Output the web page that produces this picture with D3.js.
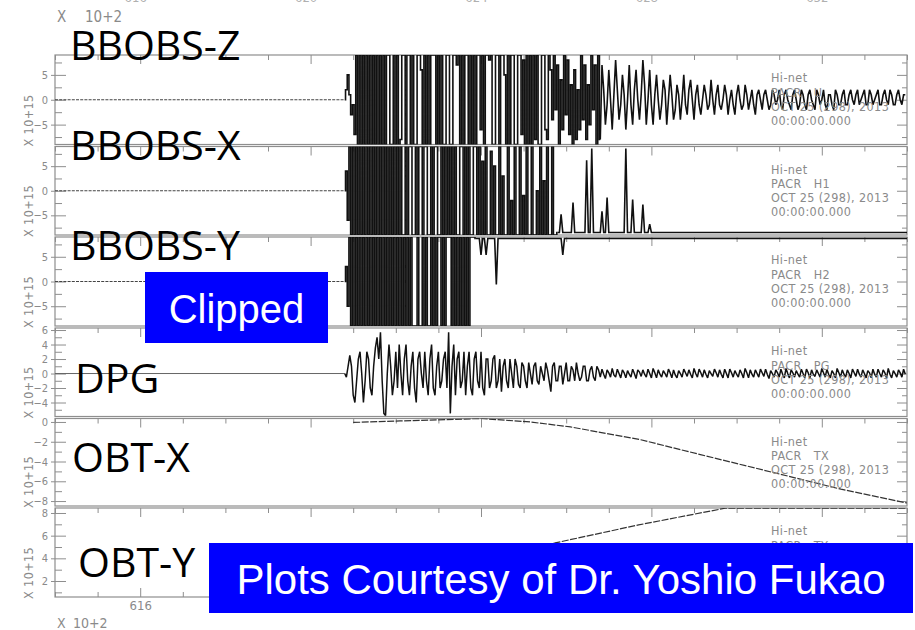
<!DOCTYPE html>
<html>
<head>
<meta charset="utf-8">
<script src="https://cdn.jsdelivr.net/npm/d3@7"></script>
<style>
  html, body { margin: 0; padding: 0; background: #fff; }
  svg { display: block; }
  .plotfont { font-family: 'Liberation Sans Narrow', 'DejaVu Sans Condensed', 'Liberation Sans', sans-serif; }
</style>
</head>
<body>
<svg id="chart" width="915" height="630"></svg>
<script>
// ---------------- data ----------------
// Station PACR, Hi-net, 2013-10-25. Time axis in units of 10^2 s.
const panelNames   = ["BBOBS-Z", "BBOBS-X", "BBOBS-Y", "DPG", "OBT-X", "OBT-Y"];
const channelCodes = ["U", "H1", "H2", "PG", "TX", "TY"];
const stationLines = ["Hi-net", "PACR", "OCT 25 (298), 2013", "00:00:00.000"];

const timeDomain     = [614, 634];
const timeMajorTicks = [616, 620, 624, 628, 632];
const timeMinorTicks = [614, 615, 617, 618, 619, 621, 622, 623, 625, 626, 627, 629, 630, 631, 633, 634];

// amplitude ranges (x 10^15) and axis ticks of each panel
const ampDomains = [[-9, 9], [-9, 9], [-9, 9], [-5.93, 6.28], [-8.5, 0.35], [0.59, 8.44]];
const ampMajorTicks = [[-5, 0, 5], [-5, 0, 5], [-5, 0, 5], [-4, -2, 0, 2, 4, 6], [-8, -6, -4, -2, 0], [2, 4, 6, 8]];
const ampMinorTicks = [[-7.5, -2.5, 2.5, 7.5], [-7.5, -2.5, 2.5, 7.5], [-7.5, -2.5, 2.5, 7.5],
                       [-5, -3, -1, 1, 3, 5], [-7, -5, -3, -1], [1, 3, 5, 7]];

// broadband sensor saturation level (x 10^15)
const clipLevel = 9;

// waveform samples (extrema) from the first arrival onward
const traceStart = 620.8;
const traceStep  = 0.04;

const zValues = [
  0, 2, 5, 1, -3, -1, -7,
  9, -9, 9, -9, 9, -9, 9, -9, 9, -9, 9, -9, 9, -9, 9, -9, 9, -9,
  9, 9, -9, -9, 9, -9, 9, -9,
  -8, 9,
  9, -9, 9, 9, -9, 9, -9, -9, 9,
  9, 6,
  -9, 9, -9, 9, -9, 9,
  9, 9,
  -9, 9, -9, 9, -9,
  -9, 9, 9, -9, -9, 9,
  9, 7, 9,
  -9, 9, -9, 9,
  9,
  -9, 9, -9, 9, -9, 9,
  9, -6,
  9, -9, 9,
  9, 8, 9,
  -9, -9, 9, 9, -9, 9,
  9, 5,
  -9, 9, -9, 9,
  9, -9, -9, 9, 9, -7, 8, -9,
  9, -9, 9, -9, 9, -8, 9, -9,
  -9, 9, 9, -6, -8, 9, 6, -4,
  9, -2, 7, -9, 4, -6, 9, -3, 8, -7, 3, -9,
  6, -8, 2, -6, 9, -4, 7, -8, 3, -5, 9, -2,
  7, -9, 9, -8,
  7, 2, -5, -1, 6, 0, -6, 1, 8, 2, -4, -1, 5, 1, -6, 0, 7, -1, -5, 2, 6, 0, -4, 1, 8, 3, -5, 0, 6,
  -1, -5, 1, 5, 0, -4, -1, 4, 2, -5, 0, 5, 1, -4, -2, 3, 1, -4, 0, 5, -1, -3, 2, 4, 0, -4, 1, 3, -1,
  -3, 0, 3, 1, -2, -1, 4, 0, -3, 1, 3, -1, -2, 0, 3, 1, -3, 0, 2, -1, -3, 1, 3, 0, -2, -1, 3, 1, -2, 0, 2, -1, -3, 1, 2, 0,
  -2, 1, 2, 0, -2, -1, 2, 1, -1, 0, 2, -1, -2, 1, 2, 0, -1, -2, 1, 2, 0, -2, -1, 2, 1, -1, -2, 1, 2, 0, -1, -2, 2, 1, -1, 0, 2, -1, -2, 1, 1, -1, -2, 2, 1, -1, -1,
  1, 2, -1, -1, 1, 2, 0, -1, 1, 2, -1, 0, 1, 2, -1, -1, 2, 1, -1, 0, 1, 2, -1, -1, 1, 2, 0, -1, 2, 1, -1, -1, 1, 2, 0, -1, 1, 1
];

const xValues = [
  0, 4, -6,
  9, -9, 9, -9, 9, -9, 9, -9, 9, -9, 9, -9, 9, -9, 9, -9, 9, -9, 9, -9, 9, -9, 9, -9, 9, -9, 9, -9, 9, -9,
  9, -9, -9, 9, -9, 9, 9, -9, -9, 9, -9, 9, 9, -9, 9, 9, -9, -9, 9, -9, 9, 9, -9, -9, 9,
  -9, 9, -9, 9, -9, 9, -9, 9, -9, -9, 9, 9, -9, 9, -9, 9, -9, -9, 9, 9,
  -9, 9, -9, 6, -9, 9, -9, -9, 8, -9, 5, -9, -9, 9, -9, 3, -9, -9, 9, -9, -2, -9, 9,
  -9, -9, 9, -9, -1, -9, 9, -9, -9, 9, -9, -9, 0, -9, 9, -9, 2, -9, 9, -9, -9, 9, -9, -9,
  -8.5, -8.5, -4.8, -8.5, -8.5, -8.5, -8.5, -8.5, -8.5, -2.4, -8.5, -8.5, -8.5, -8.5, -8.5, -8.5, -8.5,
  6.2, -8.5, -8.5, 8.6, -8.5, -8.5, -8.5, -8.5, -8.5, -4.2, -8.5, -8.5, -1.4,
  -8.5, -8.5, -8.5, -8.5, -8.5, -8.5, -8.5, -8.5, -8.5, -8.5, 8.6, -8.5, -8.5, -8.5, -1.8,
  -8.5, -8.5, -8.5, -8.5, -8.5, -2.8, -8.5, -8.5, -8.5, -6.8, -8.5, -8.5, -8.5
];

const yValues = [
  0, 3, -5,
  9, -9, 9, -9, 9, -9, 9, -9, 9, -9, 9, -9, 9, -9, 9, -9, 9, -9, 9, -9, 9, -9, 9, -9, 9, -9, 9, -9, 9, -9,
  9, -9, 9, -9, 9, -9, 9, -9,
  -9, -9, 9, -9, -9, 9, -9, 9, -9, -9, 9, -9, 9, -9, 9, 9, -9, 9, -9, 9, 9, 9, -9, 9, -9, 9, -9, 9, -9, 9, -9, 9, -9, 9, 9, 9,
  8.7, 8.7, 8.7, 5.4, 8.7, 8.7, 5.4, 8.7, 8.7, 8.7, 8.7, 8.7, -0.6,
  8.7, 8.7, 8.7, 8.7, 8.7, 8.7, 8.7, 8.7, 8.7, 8.7, 8.7, 8.7, 8.7, 8.7, 8.7, 8.7, 8.7, 8.7, 8.7,
  8.7, 8.7, 8.7, 8.7, 8.7, 8.7, 8.7, 8.7, 8.7, 8.7, 8.7, 8.7, 8.7, 8.7, 8.7, 8.7, 8.7, 8.7, 8.7,
  5.4, 8.7, 8.7, 8.7, 8.7
];

const dpgValues = [
  0, -0.5, 1, 2.5, 1, -3, -4, -1, 2, 3, 0, -4, -1, 3, 2, -2, -3, 1, 3.5, 5, 2, 5.7, -1, -5.5, -5.8, 0, 4, 1, -3, -1,
  3, -2, 4, 0, -3, 2, 4, -1, -3, 1, 3, -2, -4, 2, 3, 0, -2, 3, -1, -3, 2, 4, -2, -3, 1, 3, -2, -1, 2,
  3, -2, 5.7, -5.5, 1, 4,
  -3, 2, 3, -2, -1, 3, -3, 1, 3, -2, -3, 2, 3, -1, -2, 3, -2, -3, 2, 2, -2, -1, 2,
  2.5, -2, -1, 2, -2.5, 1, 2, -1, -2, 2, 0, -2, 2, 1, -1.5, -2, 1.5, 1, -1, -2, 1.5, 0, -1.5,
  1, 1.5, -1, -1.5, 1, 0, -1, 1.5, 0.5, -1, -2.5, 1, 1.5, -1, -1, 1, 1, -1.5, 0, 1.5,
  -1, -1, 1, 0.5, -1, 1.5, 0, -1, -0.5, 1, 1, -1, -1, 0.5, 1, -0.5, -1, 1, 0.5, -0.5,
  0.6, -0.1, -0.7, 0.5, 0.1, -0.5, 0.7, -0.2, -0.5, 0.6, 0, -0.6, 0.5, 0.1, -0.6, 0.4, -0.1, -0.5,
  0.6, 0, -0.7, 0.5, 0.2, -0.4, 0.5, -0.1, -0.5, 0.6, 0, -0.6, 0.7, 0.1, -0.6, 0.5, -0.1, -0.5,
  0.4, 0, -0.5, 0.6, 0.1, -0.6, 0.5, -0.2, -0.6, 0.4, 0, -0.5, 0.6, 0.1, -0.4, 0.5, -0.1, -0.6,
  0.7, 0, -0.5, 0.6, 0.1, -0.5, 0.5, -0.1, -0.6, 0.4, 0, -0.4, 0.6, 0.1, -0.5, 0.5, -0.1, -0.6,
  0.6, 0, -0.6, 0.6, 0.1, -0.5, 0.4, -0.1, -0.5, 0.5, 0, -0.6, 0.7, 0.1, -0.6, 0.5, -0.1, -0.5,
  0.5, 0, -0.5, 0.6, 0.1, -0.4, 0.6, -0.1, -0.7, 0.4, 0, -0.5, 0.5, 0.1, -0.5, 0.6, -0.1, -0.6,
  0.7, 0, -0.6, 0.5, 0.1, -0.5, 0.4, -0.1, -0.5, 0.6, 0, -0.6, 0.6, 0.1, -0.6, 0.5, -0.1, -0.4,
  0.5, 0, -0.5, 0.7, 0.1, -0.5, 0.6, -0.1, -0.6, 0.4, 0, -0.6, 0.7, 0.1, -0.5, 0.5, -0.1, -0.5,
  0.5, 0, -0.6, 0.6, 0.1, -0.4, 0.6, -0.1, -0.5, 0.5, 0, -0.6, 0.4, 0.1, -0.6, 0.6, -0.1, -0.5,
  0.6, 0, -0.5, 0.5, 0.1, -0.6, 0.7, -0.1, -0.6, 0.4, 0, -0.5, 0.5, 0.1, -0.5, 0.6, -0.1
];

// tilt meter records (time, value)
const obtXTime  = [621.0, 622.1, 624.0, 625.15, 626.1, 627.75, 629.15, 630.85, 632.45, 634.0];
const obtXValue = [-0.05, 0.1, 0.35, 0.0, -0.5, -1.8, -3.3, -5.1, -6.8, -8.2];
const obtYTime  = [621.0, 623.0, 625.74, 627.7, 629.73, 634.0];
const obtYValue = [1.9, 3.4, 5.36, 6.95, 8.42, 8.42];

// ---------------- layout ----------------
const xLeft = 55, xRight = 907;
const panelTops    = [55, 146.5, 237, 328, 418.5, 508];
const panelBottoms = [144.5, 235, 326, 416.5, 506, 597];
const frameColor = "#8e8e8e";
const labelColor = "#8a8a8a";
const traceColor = "#111";

const svg = d3.select("#chart");
svg.append("rect").attr("width", 915).attr("height", 630).attr("fill", "#fff");

const x = d3.scaleLinear().domain(timeDomain).range([xLeft, xRight]);

const panels = panelNames.map((name, k) => {
  const p = {
    name, code: channelCodes[k], top: panelTops[k], bottom: panelBottoms[k],
    major: ampMajorTicks[k], minor: ampMinorTicks[k]
  };
  p.y = d3.scaleLinear().domain(ampDomains[k]).range([p.bottom, p.top]);
  return p;
});

const defs = svg.append("defs");
panels.forEach((p, k) => {
  defs.append("clipPath").attr("id", "panel-clip-" + k)
    .append("rect").attr("x", xLeft).attr("y", p.top)
    .attr("width", xRight - xLeft).attr("height", p.bottom - p.top);
});

function styleAxis(g) {
  g.select(".domain").remove();
  g.selectAll(".tick line").attr("stroke", frameColor).attr("stroke-width", 1);
  g.selectAll(".tick text").attr("fill", labelColor)
    .attr("font-family", "'Liberation Sans Narrow','DejaVu Sans Condensed',sans-serif")
    .attr("font-size", 11);
}

const axisLayer = svg.append("g");
const traceLayer = svg.append("g");
const textLayer = svg.append("g");

panels.forEach((p, k) => {
  const g = axisLayer.append("g");

  // frame
  g.append("rect")
    .attr("x", xLeft).attr("y", p.top)
    .attr("width", xRight - xLeft).attr("height", p.bottom - p.top)
    .attr("fill", "none").attr("stroke", frameColor).attr("stroke-width", 1.2);

  // amplitude axis, left side
  g.append("g").attr("transform", "translate(51,0)")
    .call(d3.axisLeft(p.y).tickValues(p.major).tickSizeInner(-15).tickSizeOuter(0).tickPadding(3))
    .call(styleAxis);
  g.append("g").attr("transform", "translate(55,0)")
    .call(d3.axisLeft(p.y).tickValues(p.minor).tickSizeInner(-7).tickSizeOuter(0).tickFormat(() => ""))
    .call(styleAxis);

  // amplitude axis, right side
  g.append("g").attr("transform", `translate(${xRight},0)`)
    .call(d3.axisRight(p.y).tickValues(p.major).tickSizeInner(-10).tickSizeOuter(0).tickFormat(() => ""))
    .call(styleAxis);
  g.append("g").attr("transform", `translate(${xRight},0)`)
    .call(d3.axisRight(p.y).tickValues(p.minor).tickSizeInner(-5).tickSizeOuter(0).tickFormat(() => ""))
    .call(styleAxis);

  // time ticks along the top of every panel
  g.append("g").attr("transform", `translate(0,${p.top})`)
    .call(d3.axisBottom(x).tickValues(timeMajorTicks).tickSizeInner(9).tickSizeOuter(0).tickFormat(() => ""))
    .call(styleAxis);
  g.append("g").attr("transform", `translate(0,${p.top})`)
    .call(d3.axisBottom(x).tickValues(timeMinorTicks).tickSizeInner(5).tickSizeOuter(0).tickFormat(() => ""))
    .call(styleAxis);

  // unit label
  g.append("text")
    .attr("class", "plotfont")
    .attr("transform", `translate(33,${p.bottom + 2}) rotate(-90)`)
    .attr("fill", labelColor).attr("font-size", 12.5).attr("letter-spacing", 0.4)
    .text("X 10+15");

  // station annotation
  const lines = [stationLines[0], stationLines[1] + "\u00a0\u00a0\u00a0" + p.code, stationLines[2], stationLines[3]];
  const offs = [27, 41.5, 55.5, 69.5];
  lines.forEach((s, j) => {
    textLayer.append("text")
      .attr("class", "plotfont")
      .attr("x", 771).attr("y", p.top + offs[j])
      .attr("fill", labelColor).attr("font-size", 12.5).attr("letter-spacing", 0.4)
      .text(s);
  });
});

// bottom time axis
const last = panels[panels.length - 1];
axisLayer.append("g").attr("transform", `translate(0,${last.bottom})`)
  .call(d3.axisTop(x).tickValues(timeMajorTicks).tickSizeInner(9).tickSizeOuter(0).tickFormat(() => ""))
  .call(styleAxis);
axisLayer.append("g").attr("transform", `translate(0,${last.bottom})`)
  .call(d3.axisTop(x).tickValues(timeMinorTicks).tickSizeInner(5).tickSizeOuter(0).tickFormat(() => ""))
  .call(styleAxis);
axisLayer.append("g").attr("transform", `translate(0,${last.bottom})`)
  .call(d3.axisBottom(x).tickValues(timeMajorTicks).tickSize(0).tickPadding(4).tickFormat(d3.format("d")))
  .call(styleAxis)
  .call(g => g.selectAll(".tick text").attr("font-size", 13));
// labels of the axis row above the top panel (only their lower edge lies inside the page)
axisLayer.append("g").attr("transform", "translate(-5,4)")
  .call(d3.axisTop(x).tickValues(timeMajorTicks).tickSize(0).tickPadding(2).tickFormat(d3.format("d")))
  .call(styleAxis)
  .call(g => g.selectAll(".tick text").attr("font-size", 13).attr("fill", "#b0b0b0"));

// time unit labels
[[22, 15, 85], [628, 14, 73]].forEach(([yy, fs, x2]) => {
  axisLayer.append("text").attr("class", "plotfont")
    .attr("x", 57).attr("y", yy).attr("fill", labelColor).attr("font-size", fs).text("X");
  axisLayer.append("text").attr("class", "plotfont")
    .attr("x", x2).attr("y", yy).attr("fill", labelColor).attr("font-size", fs).text("10+2");
});

// ---------------- traces ----------------
// While a broadband channel is saturated it is drawn sample-by-sample as vertical
// strokes; the unsaturated remainder is drawn as an ordinary polyline.
const seismic = [
  { panel: 0, values: zValues,   hold: false, dash: "3,1.2", width: 1.6 },
  { panel: 1, values: xValues,   hold: true,  dash: "3,1.2", width: 1.6 },
  { panel: 2, values: yValues,   hold: true,  dash: "3,1.2", width: 1.6 },
  { panel: 3, values: dpgValues, hold: false, dash: null,    width: 1.5 }
];

seismic.forEach(s => {
  const p = panels[s.panel];
  const line = d3.line().x(d => x(d[0])).y(d => p.y(d[1]));
  const pts = s.values.map((v, i) => [traceStart + i * traceStep, v]);
  if (s.hold) pts.push([timeDomain[1], s.values[s.values.length - 1]]);
  let lastClip = -1;
  s.values.forEach((v, i) => { if (Math.abs(v) >= clipLevel) lastClip = i; });

  const g = traceLayer.append("g").attr("clip-path", `url(#panel-clip-${s.panel})`);
  // quiet record before the arrival
  g.append("path")
    .datum([[timeDomain[0], 0], [traceStart, 0]])
    .attr("d", line).attr("fill", "none")
    .attr("stroke", s.dash ? "#444" : "#666").attr("stroke-width", s.dash ? 1.1 : 1)
    .attr("stroke-dasharray", s.dash);

  if (lastClip >= 0) {
    g.append("path")
      .datum(pts.slice(0, lastClip + 2))
      .attr("d", d3.line().x(d => x(d[0])).y(d => p.y(d[1])).curve(d3.curveStep))
      .attr("fill", "none")
      .attr("stroke", traceColor).attr("stroke-width", s.width);
  }
  g.append("path")
    .datum(pts.slice(Math.max(0, lastClip + 1)))
    .attr("d", line).attr("fill", "none")
    .attr("stroke", traceColor).attr("stroke-width", s.width)
    .attr("stroke-linejoin", "miter").attr("stroke-miterlimit", 2);
});

[[4, obtXTime, obtXValue], [5, obtYTime, obtYValue]].forEach(([k, ts, vs]) => {
  const p = panels[k];
  const line = d3.line().x(d => x(d[0])).y(d => p.y(d[1]));
  traceLayer.append("g").attr("clip-path", `url(#panel-clip-${k})`)
    .append("path")
    .datum(ts.map((t, i) => [t, vs[i]]))
    .attr("d", line).attr("fill", "none")
    .attr("stroke", "#333").attr("stroke-width", 1.2)
    .attr("stroke-dasharray", "7,1.5");
});

// ---------------- channel names ----------------
const nameX = [70, 70, 70, 75, 72, 78];
const nameY = [60, 160, 260, 393, 472, 577];
panels.forEach((p, k) => {
  textLayer.append("text")
    .attr("x", nameX[k]).attr("y", nameY[k])
    .attr("font-family", "'Open Sans', 'Noto Sans', sans-serif")
    .attr("font-size", 41).attr("fill", "#000")
    .text(p.name);
});

// ---------------- notes ----------------
const notes = [
  { x0: 145, y0: 272, x1: 328, y1: 343, text: "Clipped", size: 40, base: 323 },
  { x0: 209, y0: 543, x1: 913, y1: 613, text: "Plots Courtesy of Dr. Yoshio Fukao", size: 42, base: 594 }
];
notes.forEach(n => {
  textLayer.append("rect")
    .attr("x", n.x0).attr("y", n.y0).attr("width", n.x1 - n.x0).attr("height", n.y1 - n.y0)
    .attr("fill", "#0000ff");
  textLayer.append("text")
    .attr("x", (n.x0 + n.x1) / 2).attr("y", n.base)
    .attr("text-anchor", "middle")
    .attr("font-family", "'Liberation Sans', Arial, sans-serif")
    .attr("font-size", n.size).attr("fill", "#fff")
    .text(n.text);
});
</script>
</body>
</html>
